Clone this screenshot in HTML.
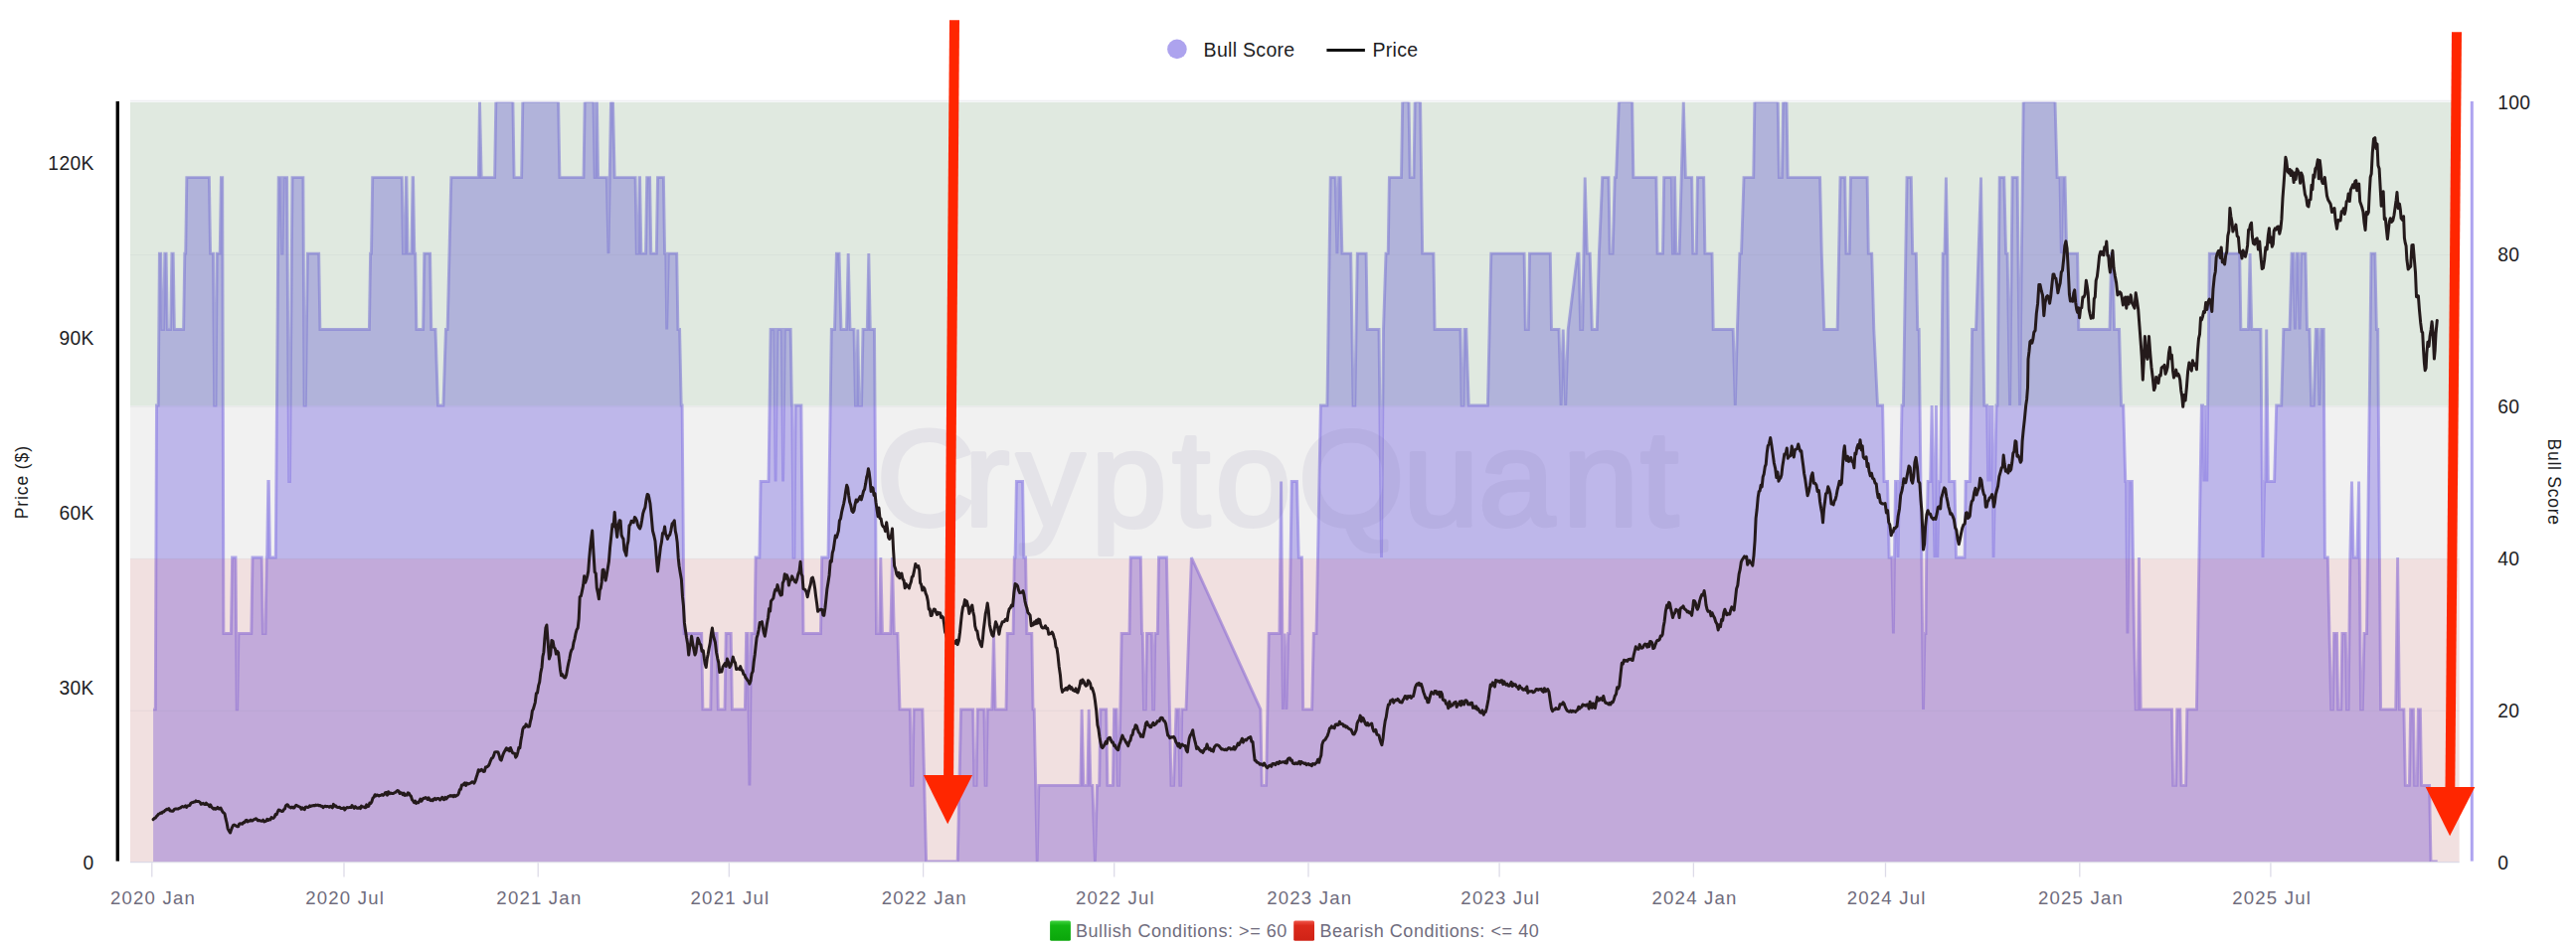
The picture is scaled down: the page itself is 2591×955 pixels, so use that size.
<!DOCTYPE html>
<html lang="en"><head><meta charset="utf-8"><title>Bull Score vs Price</title>
<style>
html,body{margin:0;padding:0;background:#fff;}
body{width:2591px;height:955px;overflow:hidden;}
svg{display:block;}
text{font-family:"Liberation Sans", Arial, Helvetica, sans-serif;}
.ax{font-size:19.3px;fill:#1d1d1f;letter-spacing:0.3px;}
.tk{font-size:18.6px;fill:#6f6c7d;letter-spacing:1.2px;}
.lg{font-size:19.5px;fill:#1d1d1f;letter-spacing:0.3px;}
.bl{font-size:18px;fill:#6f6c7d;letter-spacing:0.55px;}
.ti{font-size:17.5px;fill:#1d1d1f;letter-spacing:0.6px;}
</style></head><body>
<svg width="2591" height="955" viewBox="0 0 2591 955">
<defs>
<linearGradient id="gg" x1="0" y1="0" x2="0" y2="1"><stop offset="0" stop-color="#3fd23f"/><stop offset="0.25" stop-color="#12b512"/><stop offset="1" stop-color="#0aa60a"/></linearGradient>
<linearGradient id="rg" x1="0" y1="0" x2="0" y2="1"><stop offset="0" stop-color="#f0564a"/><stop offset="0.25" stop-color="#dc2a1c"/><stop offset="1" stop-color="#cf2216"/></linearGradient>
<clipPath id="pc"><rect x="131.0" y="102.8" width="2342.7" height="764.2"/></clipPath>
</defs>
<rect width="2591" height="955" fill="#ffffff"/>

<rect x="131.0" y="102.8" width="2342.7" height="764.2" fill="#f1f1f1"/>
<line x1="131.0" x2="2473.7" y1="101.5" y2="101.5" stroke="#eeeef2" stroke-width="1.3"/>
<g clip-path="url(#pc)"><path d="M154.1,867.0 L154.1,713.9 L156.3,713.9 L157.5,408.0 L159.2,408.0 L160.4,255.1 L161.7,255.1 L162.9,331.5 L164.6,331.5 L165.8,255.1 L167.1,255.1 L168.3,331.5 L171.7,331.5 L172.9,255.1 L174.2,255.1 L175.4,331.5 L184.6,331.5 L185.8,255.1 L186.7,255.1 L187.8,178.6 L210.4,178.6 L211.6,255.1 L214.5,255.1 L215.7,408.0 L217.0,408.0 L218.2,255.1 L221.2,255.1 L222.4,178.6 L223.7,178.6 L224.9,637.5 L232.4,637.5 L233.6,561.0 L237.0,561.0 L238.2,713.9 L238.7,713.9 L239.9,637.5 L252.8,637.5 L254.0,561.0 L263.2,561.0 L264.4,637.5 L267.0,637.5 L268.2,561.0 L268.6,561.0 L269.8,484.5 L270.3,484.5 L271.5,561.0 L277.3,561.0 L280.2,178.6 L282.4,178.6 L283.6,255.1 L284.0,255.1 L285.2,178.6 L288.6,178.6 L290.7,484.5 L291.5,484.5 L294.0,178.6 L304.9,178.6 L306.1,408.0 L307.3,408.0 L309.4,255.1 L320.7,255.1 L321.9,331.5 L371.4,331.5 L372.6,255.1 L373.5,255.1 L374.7,178.6 L404.3,178.6 L405.5,255.1 L407.2,255.1 L408.4,178.6 L408.9,178.6 L410.1,255.1 L413.9,255.1 L415.1,178.6 L415.6,178.6 L416.8,255.1 L417.7,255.1 L418.9,331.5 L425.6,331.5 L426.8,255.1 L432.6,255.1 L433.8,331.5 L438.0,331.5 L440.5,408.0 L445.9,408.0 L448.4,331.5 L450.1,331.5 L453.8,178.6 L481.3,178.6 L482.5,102.1 L484.2,178.6 L497.6,178.6 L498.8,102.1 L515.9,102.1 L517.1,178.6 L524.6,178.6 L525.8,102.1 L561.6,102.1 L562.9,178.6 L587.0,178.6 L588.2,102.1 L597.0,102.1 L598.2,178.6 L598.7,178.6 L599.9,102.1 L600.4,102.1 L601.6,178.6 L610.3,178.6 L612.0,255.1 L614.5,102.1 L616.5,102.1 L618.2,178.6 L639.1,178.6 L640.3,255.1 L642.0,255.1 L643.2,178.6 L643.6,178.6 L644.9,255.1 L649.5,255.1 L650.7,178.6 L653.6,178.6 L654.8,255.1 L660.3,255.1 L661.5,178.6 L667.4,178.6 L668.6,255.1 L669.8,255.1 L670.7,331.5 L672.3,255.1 L680.7,255.1 L681.9,331.5 L683.6,331.5 L685.2,408.0 L686.1,408.0 L688.1,637.5 L705.7,637.5 L706.9,713.9 L714.8,713.9 L716.0,637.5 L721.1,637.5 L722.3,713.9 L729.0,713.9 L730.2,637.5 L735.2,637.5 L736.4,713.9 L749.4,713.9 L750.6,637.5 L752.2,637.5 L753.9,790.4 L755.6,637.5 L759.0,637.5 L760.1,561.0 L763.9,561.0 L765.1,484.5 L773.0,484.5 L775.1,331.5 L778.9,331.5 L780.1,484.5 L781.8,331.5 L786.4,331.5 L787.6,484.5 L789.3,331.5 L795.2,331.5 L796.4,408.0 L796.8,408.0 L798.0,561.0 L798.9,561.0 L800.1,408.0 L805.9,408.0 L808.0,637.5 L825.5,637.5 L826.7,561.0 L833.0,561.0 L836.3,331.5 L839.5,331.5 L841.4,255.1 L844.0,255.1 L846.0,331.5 L851.5,331.5 L853.2,255.1 L855.0,331.5 L859.0,331.5 L860.5,408.0 L861.5,408.0 L862.8,331.5 L864.0,408.0 L866.5,408.0 L868.0,331.5 L872.3,331.5 L873.8,255.1 L875.3,331.5 L879.5,331.5 L881.5,637.5 L884.6,637.5 L885.8,561.0 L887.5,637.5 L895.8,637.5 L897.5,561.0 L899.3,637.5 L902.9,637.5 L905.0,713.9 L915.4,713.9 L916.6,790.4 L917.9,790.4 L919.1,713.9 L927.9,713.9 L931.6,866.9 L963.2,866.9 L966.6,713.9 L978.7,713.9 L979.9,790.4 L982.0,790.4 L983.2,713.9 L989.9,713.9 L991.1,790.4 L992.0,790.4 L993.2,713.9 L997.8,713.9 L999.5,637.5 L1001.1,713.9 L1012.0,713.9 L1013.2,637.5 L1019.1,637.5 L1020.3,561.0 L1021.1,561.0 L1022.4,484.5 L1028.6,484.5 L1029.8,561.0 L1031.6,561.0 L1032.8,637.5 L1037.8,637.5 L1039.0,713.9 L1040.2,713.9 L1043.2,866.9 L1044.8,790.4 L1086.9,790.4 L1088.1,713.9 L1089.8,790.4 L1093.9,790.4 L1095.2,713.9 L1096.9,790.4 L1098.9,790.4 L1101.4,866.9 L1103.5,790.4 L1105.7,790.4 L1106.8,713.9 L1112.7,713.9 L1113.9,790.4 L1119.4,790.4 L1120.6,713.9 L1123.1,713.9 L1124.3,790.4 L1125.6,790.4 L1128.1,637.5 L1136.0,637.5 L1137.2,561.0 L1147.3,561.0 L1148.5,637.5 L1149.3,637.5 L1150.5,713.9 L1152.3,713.9 L1153.5,637.5 L1158.5,637.5 L1159.7,713.9 L1160.6,713.9 L1161.8,637.5 L1164.3,637.5 L1165.5,561.0 L1173.4,561.0 L1176.4,713.9 L1178.0,790.4 L1180.5,790.4 L1183.0,713.9 L1185.6,713.9 L1186.8,790.4 L1187.6,790.4 L1188.8,713.9 L1193.0,713.9 L1198.4,561.0 L1267.9,713.9 L1269.2,790.4 L1273.6,790.4 L1276.2,637.5 L1286.9,637.5 L1288.6,484.5 L1290.4,713.9 L1292.2,637.5 L1293.9,713.9 L1295.7,637.5 L1297.0,637.5 L1299.2,484.5 L1304.5,484.5 L1306.3,561.0 L1309.4,561.0 L1310.7,713.9 L1319.6,713.9 L1321.3,637.5 L1324.0,637.5 L1328.4,408.0 L1334.9,408.0 L1338.2,178.6 L1343.2,178.6 L1344.9,255.1 L1346.6,178.6 L1348.2,178.6 L1349.9,255.1 L1358.7,255.1 L1361.1,408.0 L1362.8,408.0 L1365.3,255.1 L1374.1,255.1 L1375.3,331.5 L1387.0,331.5 L1389.5,561.0 L1391.5,331.5 L1394.0,255.1 L1396.2,255.1 L1397.4,178.6 L1409.5,178.6 L1410.7,102.1 L1417.0,102.1 L1418.2,178.6 L1422.0,178.6 L1423.2,102.1 L1428.6,102.1 L1430.7,255.1 L1441.9,255.1 L1443.1,331.5 L1469.0,331.5 L1470.2,408.0 L1471.9,408.0 L1473.1,331.5 L1474.8,331.5 L1477.3,408.0 L1496.4,408.0 L1499.8,255.1 L1533.1,255.1 L1534.3,331.5 L1537.3,331.5 L1538.5,255.1 L1559.3,255.1 L1560.5,331.5 L1568.0,331.5 L1570.1,408.0 L1572.2,331.5 L1574.7,408.0 L1577.2,331.5 L1586.7,255.1 L1588.0,255.1 L1589.7,331.5 L1591.7,331.5 L1594.2,178.6 L1596.3,255.1 L1599.2,255.1 L1601.3,331.5 L1606.3,331.5 L1608.4,255.1 L1611.7,178.6 L1618.0,178.6 L1619.2,255.1 L1622.1,255.1 L1624.2,178.6 L1625.5,178.6 L1628.4,102.1 L1641.7,102.1 L1642.9,178.6 L1665.9,178.6 L1667.1,255.1 L1672.5,255.1 L1673.7,178.6 L1681.3,178.6 L1682.5,255.1 L1682.9,255.1 L1684.1,178.6 L1684.6,178.6 L1685.8,255.1 L1689.1,255.1 L1693.3,102.1 L1695.4,178.6 L1701.7,178.6 L1702.8,255.1 L1706.2,255.1 L1707.4,178.6 L1713.7,178.6 L1714.9,255.1 L1722.0,255.1 L1723.2,331.5 L1743.2,331.5 L1745.3,408.0 L1747.4,331.5 L1749.9,255.1 L1751.5,255.1 L1754.0,178.6 L1763.7,178.6 L1764.9,102.1 L1788.2,102.1 L1789.4,178.6 L1792.4,178.6 L1793.6,102.1 L1797.0,102.1 L1798.2,178.6 L1830.6,178.6 L1832.3,255.1 L1834.8,331.5 L1848.1,331.5 L1851.0,178.6 L1855.7,178.6 L1856.9,255.1 L1860.2,255.1 L1861.4,178.6 L1878.1,178.6 L1879.3,255.1 L1882.7,255.1 L1884.8,331.5 L1888.5,408.0 L1893.6,408.0 L1895.0,484.5 L1898.6,484.5 L1900.1,561.0 L1902.9,561.0 L1904.4,637.5 L1905.5,561.0 L1906.5,484.5 L1908.0,484.5 L1909.0,561.0 L1910.5,484.5 L1911.5,484.5 L1913.0,408.0 L1914.4,408.0 L1918.0,178.6 L1922.3,178.6 L1923.7,255.1 L1927.3,255.1 L1928.8,331.5 L1930.2,331.5 L1934.5,713.9 L1935.9,637.5 L1937.0,637.5 L1937.7,561.0 L1939.1,484.5 L1941.7,484.5 L1943.1,408.0 L1944.5,484.5 L1946.0,561.0 L1947.4,408.0 L1948.8,561.0 L1950.2,484.5 L1951.7,484.5 L1954.2,255.1 L1956.0,255.1 L1957.4,178.6 L1958.8,255.1 L1960.7,484.5 L1966.0,484.5 L1967.5,561.0 L1976.1,561.0 L1977.1,484.5 L1981.4,484.5 L1983.6,331.5 L1987.5,331.5 L1992.5,178.6 L1995.8,408.0 L1998.6,408.0 L1999.7,484.5 L2001.2,408.0 L2002.6,484.5 L2004.0,408.0 L2005.1,561.0 L2006.5,484.5 L2008.0,408.0 L2009.0,408.0 L2011.2,178.6 L2015.8,178.6 L2017.6,255.1 L2019.1,255.1 L2021.6,408.0 L2024.1,178.6 L2029.1,178.6 L2031.6,408.0 L2035.2,102.1 L2067.0,102.1 L2069.1,178.6 L2072.0,178.6 L2073.3,255.1 L2074.9,178.6 L2077.0,178.6 L2078.7,255.1 L2089.6,255.1 L2090.8,331.5 L2122.0,331.5 L2123.6,255.1 L2124.9,255.1 L2126.6,331.5 L2131.6,331.5 L2133.6,408.0 L2135.7,408.0 L2137.8,484.5 L2138.6,484.5 L2139.9,637.5 L2141.5,484.5 L2144.4,484.5 L2146.5,637.5 L2148.2,713.9 L2150.3,713.9 L2151.5,561.0 L2153.2,713.9 L2184.5,713.9 L2185.7,790.4 L2188.6,790.4 L2189.8,713.9 L2192.8,713.9 L2194.0,790.4 L2198.6,790.4 L2199.8,713.9 L2209.4,713.9 L2214.4,408.0 L2215.6,408.0 L2216.9,484.5 L2218.5,408.0 L2219.8,484.5 L2222.3,255.1 L2252.7,255.1 L2253.9,331.5 L2261.4,331.5 L2263.1,255.1 L2264.8,331.5 L2273.9,331.5 L2276.0,561.0 L2277.7,484.5 L2278.5,484.5 L2279.7,331.5 L2281.4,484.5 L2287.6,484.5 L2289.7,408.0 L2294.7,408.0 L2296.8,331.5 L2303.0,331.5 L2305.1,255.1 L2306.8,255.1 L2308.4,331.5 L2310.1,255.1 L2311.4,255.1 L2313.0,331.5 L2314.7,255.1 L2318.9,255.1 L2320.5,331.5 L2323.0,331.5 L2324.7,408.0 L2327.2,408.0 L2329.3,331.5 L2331.3,331.5 L2333.0,408.0 L2334.7,331.5 L2337.2,331.5 L2338.4,561.0 L2341.3,561.0 L2344.7,713.9 L2346.4,713.9 L2347.6,637.5 L2350.5,637.5 L2351.7,713.9 L2354.7,713.9 L2355.9,637.5 L2359.3,637.5 L2360.5,713.9 L2362.1,713.9 L2363.8,561.0 L2365.5,484.5 L2367.1,561.0 L2370.9,561.0 L2372.6,484.5 L2374.6,713.9 L2376.3,713.9 L2378.0,637.5 L2380.5,637.5 L2385.0,255.1 L2388.8,255.1 L2390.4,331.5 L2391.7,331.5 L2394.6,713.9 L2409.7,713.9 L2411.6,561.0 L2413.4,713.9 L2417.9,713.9 L2419.3,790.4 L2423.4,790.4 L2424.6,713.9 L2427.4,713.9 L2428.6,790.4 L2431.2,790.4 L2432.4,713.9 L2434.4,713.9 L2435.6,790.4 L2443.6,790.4 L2445.0,866.9 L2451.7,866.9 L2451.7,867.0 Z" fill="rgb(139,125,227)" fill-opacity="0.5"/>
<path d="M154.1,713.9 L156.3,713.9 L157.5,408.0 L159.2,408.0 L160.4,255.1 L161.7,255.1 L162.9,331.5 L164.6,331.5 L165.8,255.1 L167.1,255.1 L168.3,331.5 L171.7,331.5 L172.9,255.1 L174.2,255.1 L175.4,331.5 L184.6,331.5 L185.8,255.1 L186.7,255.1 L187.8,178.6 L210.4,178.6 L211.6,255.1 L214.5,255.1 L215.7,408.0 L217.0,408.0 L218.2,255.1 L221.2,255.1 L222.4,178.6 L223.7,178.6 L224.9,637.5 L232.4,637.5 L233.6,561.0 L237.0,561.0 L238.2,713.9 L238.7,713.9 L239.9,637.5 L252.8,637.5 L254.0,561.0 L263.2,561.0 L264.4,637.5 L267.0,637.5 L268.2,561.0 L268.6,561.0 L269.8,484.5 L270.3,484.5 L271.5,561.0 L277.3,561.0 L280.2,178.6 L282.4,178.6 L283.6,255.1 L284.0,255.1 L285.2,178.6 L288.6,178.6 L290.7,484.5 L291.5,484.5 L294.0,178.6 L304.9,178.6 L306.1,408.0 L307.3,408.0 L309.4,255.1 L320.7,255.1 L321.9,331.5 L371.4,331.5 L372.6,255.1 L373.5,255.1 L374.7,178.6 L404.3,178.6 L405.5,255.1 L407.2,255.1 L408.4,178.6 L408.9,178.6 L410.1,255.1 L413.9,255.1 L415.1,178.6 L415.6,178.6 L416.8,255.1 L417.7,255.1 L418.9,331.5 L425.6,331.5 L426.8,255.1 L432.6,255.1 L433.8,331.5 L438.0,331.5 L440.5,408.0 L445.9,408.0 L448.4,331.5 L450.1,331.5 L453.8,178.6 L481.3,178.6 L482.5,102.1 L484.2,178.6 L497.6,178.6 L498.8,102.1 L515.9,102.1 L517.1,178.6 L524.6,178.6 L525.8,102.1 L561.6,102.1 L562.9,178.6 L587.0,178.6 L588.2,102.1 L597.0,102.1 L598.2,178.6 L598.7,178.6 L599.9,102.1 L600.4,102.1 L601.6,178.6 L610.3,178.6 L612.0,255.1 L614.5,102.1 L616.5,102.1 L618.2,178.6 L639.1,178.6 L640.3,255.1 L642.0,255.1 L643.2,178.6 L643.6,178.6 L644.9,255.1 L649.5,255.1 L650.7,178.6 L653.6,178.6 L654.8,255.1 L660.3,255.1 L661.5,178.6 L667.4,178.6 L668.6,255.1 L669.8,255.1 L670.7,331.5 L672.3,255.1 L680.7,255.1 L681.9,331.5 L683.6,331.5 L685.2,408.0 L686.1,408.0 L688.1,637.5 L705.7,637.5 L706.9,713.9 L714.8,713.9 L716.0,637.5 L721.1,637.5 L722.3,713.9 L729.0,713.9 L730.2,637.5 L735.2,637.5 L736.4,713.9 L749.4,713.9 L750.6,637.5 L752.2,637.5 L753.9,790.4 L755.6,637.5 L759.0,637.5 L760.1,561.0 L763.9,561.0 L765.1,484.5 L773.0,484.5 L775.1,331.5 L778.9,331.5 L780.1,484.5 L781.8,331.5 L786.4,331.5 L787.6,484.5 L789.3,331.5 L795.2,331.5 L796.4,408.0 L796.8,408.0 L798.0,561.0 L798.9,561.0 L800.1,408.0 L805.9,408.0 L808.0,637.5 L825.5,637.5 L826.7,561.0 L833.0,561.0 L836.3,331.5 L839.5,331.5 L841.4,255.1 L844.0,255.1 L846.0,331.5 L851.5,331.5 L853.2,255.1 L855.0,331.5 L859.0,331.5 L860.5,408.0 L861.5,408.0 L862.8,331.5 L864.0,408.0 L866.5,408.0 L868.0,331.5 L872.3,331.5 L873.8,255.1 L875.3,331.5 L879.5,331.5 L881.5,637.5 L884.6,637.5 L885.8,561.0 L887.5,637.5 L895.8,637.5 L897.5,561.0 L899.3,637.5 L902.9,637.5 L905.0,713.9 L915.4,713.9 L916.6,790.4 L917.9,790.4 L919.1,713.9 L927.9,713.9 L931.6,866.9 L963.2,866.9 L966.6,713.9 L978.7,713.9 L979.9,790.4 L982.0,790.4 L983.2,713.9 L989.9,713.9 L991.1,790.4 L992.0,790.4 L993.2,713.9 L997.8,713.9 L999.5,637.5 L1001.1,713.9 L1012.0,713.9 L1013.2,637.5 L1019.1,637.5 L1020.3,561.0 L1021.1,561.0 L1022.4,484.5 L1028.6,484.5 L1029.8,561.0 L1031.6,561.0 L1032.8,637.5 L1037.8,637.5 L1039.0,713.9 L1040.2,713.9 L1043.2,866.9 L1044.8,790.4 L1086.9,790.4 L1088.1,713.9 L1089.8,790.4 L1093.9,790.4 L1095.2,713.9 L1096.9,790.4 L1098.9,790.4 L1101.4,866.9 L1103.5,790.4 L1105.7,790.4 L1106.8,713.9 L1112.7,713.9 L1113.9,790.4 L1119.4,790.4 L1120.6,713.9 L1123.1,713.9 L1124.3,790.4 L1125.6,790.4 L1128.1,637.5 L1136.0,637.5 L1137.2,561.0 L1147.3,561.0 L1148.5,637.5 L1149.3,637.5 L1150.5,713.9 L1152.3,713.9 L1153.5,637.5 L1158.5,637.5 L1159.7,713.9 L1160.6,713.9 L1161.8,637.5 L1164.3,637.5 L1165.5,561.0 L1173.4,561.0 L1176.4,713.9 L1178.0,790.4 L1180.5,790.4 L1183.0,713.9 L1185.6,713.9 L1186.8,790.4 L1187.6,790.4 L1188.8,713.9 L1193.0,713.9 L1198.4,561.0 L1267.9,713.9 L1269.2,790.4 L1273.6,790.4 L1276.2,637.5 L1286.9,637.5 L1288.6,484.5 L1290.4,713.9 L1292.2,637.5 L1293.9,713.9 L1295.7,637.5 L1297.0,637.5 L1299.2,484.5 L1304.5,484.5 L1306.3,561.0 L1309.4,561.0 L1310.7,713.9 L1319.6,713.9 L1321.3,637.5 L1324.0,637.5 L1328.4,408.0 L1334.9,408.0 L1338.2,178.6 L1343.2,178.6 L1344.9,255.1 L1346.6,178.6 L1348.2,178.6 L1349.9,255.1 L1358.7,255.1 L1361.1,408.0 L1362.8,408.0 L1365.3,255.1 L1374.1,255.1 L1375.3,331.5 L1387.0,331.5 L1389.5,561.0 L1391.5,331.5 L1394.0,255.1 L1396.2,255.1 L1397.4,178.6 L1409.5,178.6 L1410.7,102.1 L1417.0,102.1 L1418.2,178.6 L1422.0,178.6 L1423.2,102.1 L1428.6,102.1 L1430.7,255.1 L1441.9,255.1 L1443.1,331.5 L1469.0,331.5 L1470.2,408.0 L1471.9,408.0 L1473.1,331.5 L1474.8,331.5 L1477.3,408.0 L1496.4,408.0 L1499.8,255.1 L1533.1,255.1 L1534.3,331.5 L1537.3,331.5 L1538.5,255.1 L1559.3,255.1 L1560.5,331.5 L1568.0,331.5 L1570.1,408.0 L1572.2,331.5 L1574.7,408.0 L1577.2,331.5 L1586.7,255.1 L1588.0,255.1 L1589.7,331.5 L1591.7,331.5 L1594.2,178.6 L1596.3,255.1 L1599.2,255.1 L1601.3,331.5 L1606.3,331.5 L1608.4,255.1 L1611.7,178.6 L1618.0,178.6 L1619.2,255.1 L1622.1,255.1 L1624.2,178.6 L1625.5,178.6 L1628.4,102.1 L1641.7,102.1 L1642.9,178.6 L1665.9,178.6 L1667.1,255.1 L1672.5,255.1 L1673.7,178.6 L1681.3,178.6 L1682.5,255.1 L1682.9,255.1 L1684.1,178.6 L1684.6,178.6 L1685.8,255.1 L1689.1,255.1 L1693.3,102.1 L1695.4,178.6 L1701.7,178.6 L1702.8,255.1 L1706.2,255.1 L1707.4,178.6 L1713.7,178.6 L1714.9,255.1 L1722.0,255.1 L1723.2,331.5 L1743.2,331.5 L1745.3,408.0 L1747.4,331.5 L1749.9,255.1 L1751.5,255.1 L1754.0,178.6 L1763.7,178.6 L1764.9,102.1 L1788.2,102.1 L1789.4,178.6 L1792.4,178.6 L1793.6,102.1 L1797.0,102.1 L1798.2,178.6 L1830.6,178.6 L1832.3,255.1 L1834.8,331.5 L1848.1,331.5 L1851.0,178.6 L1855.7,178.6 L1856.9,255.1 L1860.2,255.1 L1861.4,178.6 L1878.1,178.6 L1879.3,255.1 L1882.7,255.1 L1884.8,331.5 L1888.5,408.0 L1893.6,408.0 L1895.0,484.5 L1898.6,484.5 L1900.1,561.0 L1902.9,561.0 L1904.4,637.5 L1905.5,561.0 L1906.5,484.5 L1908.0,484.5 L1909.0,561.0 L1910.5,484.5 L1911.5,484.5 L1913.0,408.0 L1914.4,408.0 L1918.0,178.6 L1922.3,178.6 L1923.7,255.1 L1927.3,255.1 L1928.8,331.5 L1930.2,331.5 L1934.5,713.9 L1935.9,637.5 L1937.0,637.5 L1937.7,561.0 L1939.1,484.5 L1941.7,484.5 L1943.1,408.0 L1944.5,484.5 L1946.0,561.0 L1947.4,408.0 L1948.8,561.0 L1950.2,484.5 L1951.7,484.5 L1954.2,255.1 L1956.0,255.1 L1957.4,178.6 L1958.8,255.1 L1960.7,484.5 L1966.0,484.5 L1967.5,561.0 L1976.1,561.0 L1977.1,484.5 L1981.4,484.5 L1983.6,331.5 L1987.5,331.5 L1992.5,178.6 L1995.8,408.0 L1998.6,408.0 L1999.7,484.5 L2001.2,408.0 L2002.6,484.5 L2004.0,408.0 L2005.1,561.0 L2006.5,484.5 L2008.0,408.0 L2009.0,408.0 L2011.2,178.6 L2015.8,178.6 L2017.6,255.1 L2019.1,255.1 L2021.6,408.0 L2024.1,178.6 L2029.1,178.6 L2031.6,408.0 L2035.2,102.1 L2067.0,102.1 L2069.1,178.6 L2072.0,178.6 L2073.3,255.1 L2074.9,178.6 L2077.0,178.6 L2078.7,255.1 L2089.6,255.1 L2090.8,331.5 L2122.0,331.5 L2123.6,255.1 L2124.9,255.1 L2126.6,331.5 L2131.6,331.5 L2133.6,408.0 L2135.7,408.0 L2137.8,484.5 L2138.6,484.5 L2139.9,637.5 L2141.5,484.5 L2144.4,484.5 L2146.5,637.5 L2148.2,713.9 L2150.3,713.9 L2151.5,561.0 L2153.2,713.9 L2184.5,713.9 L2185.7,790.4 L2188.6,790.4 L2189.8,713.9 L2192.8,713.9 L2194.0,790.4 L2198.6,790.4 L2199.8,713.9 L2209.4,713.9 L2214.4,408.0 L2215.6,408.0 L2216.9,484.5 L2218.5,408.0 L2219.8,484.5 L2222.3,255.1 L2252.7,255.1 L2253.9,331.5 L2261.4,331.5 L2263.1,255.1 L2264.8,331.5 L2273.9,331.5 L2276.0,561.0 L2277.7,484.5 L2278.5,484.5 L2279.7,331.5 L2281.4,484.5 L2287.6,484.5 L2289.7,408.0 L2294.7,408.0 L2296.8,331.5 L2303.0,331.5 L2305.1,255.1 L2306.8,255.1 L2308.4,331.5 L2310.1,255.1 L2311.4,255.1 L2313.0,331.5 L2314.7,255.1 L2318.9,255.1 L2320.5,331.5 L2323.0,331.5 L2324.7,408.0 L2327.2,408.0 L2329.3,331.5 L2331.3,331.5 L2333.0,408.0 L2334.7,331.5 L2337.2,331.5 L2338.4,561.0 L2341.3,561.0 L2344.7,713.9 L2346.4,713.9 L2347.6,637.5 L2350.5,637.5 L2351.7,713.9 L2354.7,713.9 L2355.9,637.5 L2359.3,637.5 L2360.5,713.9 L2362.1,713.9 L2363.8,561.0 L2365.5,484.5 L2367.1,561.0 L2370.9,561.0 L2372.6,484.5 L2374.6,713.9 L2376.3,713.9 L2378.0,637.5 L2380.5,637.5 L2385.0,255.1 L2388.8,255.1 L2390.4,331.5 L2391.7,331.5 L2394.6,713.9 L2409.7,713.9 L2411.6,561.0 L2413.4,713.9 L2417.9,713.9 L2419.3,790.4 L2423.4,790.4 L2424.6,713.9 L2427.4,713.9 L2428.6,790.4 L2431.2,790.4 L2432.4,713.9 L2434.4,713.9 L2435.6,790.4 L2443.6,790.4 L2445.0,866.9 L2451.7,866.9" fill="none" stroke="rgb(139,125,227)" stroke-opacity="0.64" stroke-width="2.9" stroke-linejoin="miter"/></g>
<rect x="131.0" y="102.8" width="2342.7" height="305.6" fill="rgb(0,128,0)" fill-opacity="0.067"/>
<rect x="131.0" y="562.3" width="2342.7" height="304.7" fill="rgb(255,0,0)" fill-opacity="0.068"/>
<line x1="131.0" x2="2473.7" y1="256.5" y2="256.5" stroke="#7a7a90" stroke-opacity="0.06" stroke-width="1.2"/>
<line x1="131.0" x2="2473.7" y1="409.4" y2="409.4" stroke="#7a7a90" stroke-opacity="0.06" stroke-width="1.2"/>
<line x1="131.0" x2="2473.7" y1="562.4" y2="562.4" stroke="#7a7a90" stroke-opacity="0.06" stroke-width="1.2"/>
<line x1="131.0" x2="2473.7" y1="715.3" y2="715.3" stroke="#7a7a90" stroke-opacity="0.06" stroke-width="1.2"/>
<text x="881.3 969.4 1022.2 1097.1 1179.1 1222.2 1305.6 1411.0 1486.9 1571.4 1650.0" y="528.6" font-size="138" fill="rgb(110,100,150)" stroke="rgb(110,100,150)" stroke-width="4" stroke-linejoin="round" opacity="0.09">CryptoQuant</text>
<path d="M154.1,824.6 L155.2,823.5 L156.3,823.1 L157.3,821.6 L158.4,820.6 L159.5,819.2 L160.6,818.8 L161.6,818.0 L162.7,818.2 L163.7,817.0 L164.7,816.9 L165.8,815.7 L166.8,815.2 L167.9,814.2 L168.9,814.7 L169.9,813.7 L171.0,815.9 L172.0,816.0 L173.1,816.3 L174.1,816.3 L175.2,814.6 L176.2,814.0 L177.2,814.1 L178.3,813.9 L179.3,813.9 L180.4,813.2 L181.4,813.1 L182.4,812.2 L183.5,811.5 L184.5,812.0 L185.6,811.8 L186.6,810.8 L187.6,812.4 L188.7,810.9 L189.7,810.7 L190.8,810.6 L191.8,808.5 L192.8,807.8 L193.9,807.5 L194.9,807.1 L196.0,807.0 L197.0,805.9 L198.0,806.6 L199.1,806.5 L200.1,806.6 L201.2,807.4 L202.2,809.3 L203.2,808.8 L204.3,808.3 L205.3,809.3 L206.4,809.6 L207.4,808.2 L208.4,809.6 L209.5,809.7 L210.6,811.6 L211.7,809.9 L212.7,812.2 L213.8,813.2 L214.9,814.2 L215.9,813.4 L216.9,814.3 L217.9,813.7 L218.9,812.4 L220.0,814.0 L221.0,813.7 L222.0,813.0 L223.0,815.3 L224.1,817.2 L225.1,817.9 L226.1,819.2 L227.1,824.2 L228.1,828.1 L229.1,833.8 L230.3,836.2 L231.6,838.0 L232.5,835.1 L233.5,832.7 L234.5,830.5 L235.5,830.0 L236.5,830.5 L237.6,831.1 L238.6,831.7 L239.7,831.8 L240.7,829.1 L241.7,828.7 L242.8,829.1 L243.8,829.2 L244.9,827.6 L245.9,827.7 L247.0,825.9 L248.0,825.3 L249.0,827.0 L250.1,826.0 L251.1,826.3 L252.2,825.2 L253.2,826.1 L254.2,825.8 L255.3,824.7 L256.3,824.4 L257.4,823.8 L258.4,824.5 L259.4,825.7 L260.5,825.5 L261.5,825.8 L262.6,826.2 L263.6,826.3 L264.6,825.2 L265.7,826.9 L266.7,826.5 L267.8,826.1 L268.8,824.3 L269.8,825.5 L270.9,824.5 L271.9,824.9 L273.0,822.6 L274.0,823.1 L275.0,823.4 L276.1,822.1 L277.1,819.5 L278.2,819.8 L279.2,817.2 L280.2,815.1 L281.3,815.3 L282.3,815.9 L283.4,816.5 L284.4,816.3 L285.5,814.7 L286.5,813.9 L287.5,810.8 L288.6,809.7 L289.6,810.2 L290.7,812.1 L291.7,812.2 L292.7,813.0 L293.8,812.0 L294.8,813.0 L295.9,813.1 L296.9,811.3 L297.9,810.2 L299.0,810.9 L300.0,811.4 L301.1,811.9 L302.1,812.3 L303.1,814.2 L304.2,812.9 L305.2,814.2 L306.3,814.6 L307.3,812.2 L308.3,812.0 L309.4,812.5 L310.4,812.3 L311.5,810.9 L312.5,811.5 L313.5,811.0 L314.6,810.7 L315.6,810.6 L316.7,810.8 L317.7,810.1 L318.8,810.4 L319.8,810.1 L320.8,810.7 L321.9,810.5 L322.9,811.3 L324.0,811.3 L325.0,812.7 L326.0,811.6 L327.1,811.2 L328.1,811.7 L329.2,811.4 L330.2,811.6 L331.2,812.3 L332.3,811.3 L333.3,811.8 L334.4,812.8 L335.4,809.4 L336.4,811.3 L337.5,810.7 L338.5,812.0 L339.6,812.4 L340.6,812.5 L341.6,812.3 L342.7,813.4 L343.7,813.4 L344.8,813.4 L345.8,812.9 L346.8,815.0 L347.9,813.4 L348.9,812.6 L350.0,812.8 L351.0,812.6 L352.0,812.6 L353.1,812.6 L354.1,810.5 L355.2,812.2 L356.2,813.3 L357.3,811.7 L358.3,812.5 L359.3,813.3 L360.4,813.2 L361.4,812.6 L362.5,813.6 L363.5,811.1 L364.5,812.0 L365.6,811.9 L366.6,812.5 L367.7,812.8 L368.7,809.8 L369.7,811.7 L370.8,811.3 L371.8,808.1 L372.9,808.5 L373.9,806.7 L375.0,803.1 L376.1,802.2 L377.2,799.7 L378.2,800.9 L379.2,799.9 L380.2,800.3 L381.2,801.0 L382.2,800.5 L383.3,800.1 L384.3,799.5 L385.3,800.4 L386.4,799.5 L387.4,797.8 L388.5,797.6 L389.5,800.2 L390.6,796.8 L391.6,798.8 L392.6,797.9 L393.7,798.4 L394.7,798.4 L395.8,798.5 L396.8,797.6 L397.8,797.4 L398.9,796.3 L399.9,795.5 L401.0,796.1 L402.0,798.5 L403.0,797.7 L404.1,798.2 L405.1,799.7 L406.2,798.2 L407.2,800.4 L408.2,799.7 L409.3,800.1 L410.3,797.8 L411.4,798.4 L412.4,800.3 L413.4,801.2 L414.5,804.7 L415.5,805.9 L416.6,807.6 L417.6,806.0 L418.6,808.4 L419.7,807.6 L420.7,807.8 L421.8,806.2 L422.8,804.1 L423.9,806.2 L424.9,804.4 L425.9,803.3 L427.0,803.5 L428.0,802.6 L429.1,803.3 L430.1,804.5 L431.1,802.8 L432.2,804.9 L433.2,805.6 L434.3,804.7 L435.3,805.7 L436.3,804.1 L437.4,803.4 L438.4,804.7 L439.5,803.7 L440.5,803.4 L441.5,803.7 L442.6,805.0 L443.6,803.8 L444.7,802.3 L445.7,804.1 L446.7,804.7 L447.8,802.4 L448.8,804.0 L449.9,802.8 L450.9,801.4 L451.9,801.2 L453.0,800.5 L454.0,801.2 L455.1,800.6 L456.1,801.6 L457.1,800.4 L458.2,801.4 L459.2,800.5 L460.3,800.1 L461.3,798.5 L462.4,794.7 L463.4,794.4 L464.4,790.1 L465.5,790.1 L466.5,788.9 L467.6,787.8 L468.6,790.5 L469.6,788.1 L470.7,789.0 L471.7,788.8 L472.8,788.2 L473.8,787.8 L474.8,786.8 L475.9,787.1 L476.9,788.2 L478.0,785.9 L479.1,782.2 L480.2,779.0 L481.3,774.7 L482.3,776.1 L483.3,775.1 L484.3,774.3 L485.3,775.4 L486.3,776.4 L487.3,776.3 L488.4,772.1 L489.4,772.0 L490.4,771.4 L491.5,770.4 L492.5,768.1 L493.6,765.1 L494.6,763.0 L495.7,762.4 L496.7,760.1 L497.7,756.9 L498.8,756.8 L500.0,756.8 L501.0,757.0 L502.1,760.2 L503.1,764.1 L504.2,765.1 L505.2,761.8 L506.2,758.8 L507.3,756.4 L508.3,754.7 L509.4,752.9 L510.4,754.8 L511.4,753.7 L512.5,755.7 L513.5,752.5 L514.6,755.5 L515.6,757.6 L516.6,758.1 L517.7,758.2 L518.7,762.2 L519.8,760.7 L520.8,757.1 L521.9,752.2 L522.9,752.6 L523.9,745.2 L524.8,740.5 L525.8,733.9 L526.9,731.6 L528.0,731.7 L529.1,728.9 L530.2,730.7 L531.4,731.3 L532.5,731.0 L533.4,726.2 L534.4,722.5 L535.4,715.2 L536.4,713.5 L537.3,710.4 L538.3,706.8 L539.4,697.7 L540.5,697.3 L541.6,690.2 L542.7,686.4 L543.8,677.1 L545.0,671.5 L545.9,660.8 L546.9,656.2 L547.9,642.3 L548.9,631.7 L549.9,629.0 L551.2,647.1 L552.4,663.1 L553.7,658.9 L554.9,644.4 L556.1,645.2 L557.2,651.4 L558.3,652.7 L559.4,658.1 L560.5,655.3 L561.6,656.9 L562.6,665.7 L563.5,673.9 L564.5,679.8 L565.6,678.6 L566.6,680.7 L567.6,681.9 L568.7,681.9 L569.7,678.8 L570.8,672.4 L571.8,667.4 L572.8,663.1 L573.9,656.9 L574.9,654.1 L576.0,652.6 L577.0,646.5 L578.0,643.1 L579.1,637.3 L580.1,633.7 L581.2,631.9 L582.2,622.8 L583.2,600.7 L584.4,599.8 L585.5,594.6 L586.6,589.1 L587.6,579.8 L588.7,586.2 L589.7,583.5 L590.7,579.9 L591.7,574.9 L592.7,561.7 L593.7,550.8 L594.7,542.2 L595.7,534.1 L597.0,556.5 L598.2,575.7 L599.3,577.2 L600.3,592.0 L601.4,596.9 L602.4,602.8 L603.3,593.7 L604.3,591.8 L605.2,585.9 L606.1,573.7 L607.1,573.2 L608.1,578.8 L609.1,584.1 L610.2,578.6 L611.3,572.1 L612.4,565.3 L613.6,550.6 L614.9,538.3 L616.0,527.6 L617.1,529.8 L618.2,515.4 L619.5,531.2 L620.7,540.4 L622.0,528.3 L623.2,523.7 L624.1,524.1 L625.1,538.4 L626.0,540.8 L627.0,542.4 L627.9,553.5 L628.9,555.9 L629.9,559.1 L630.9,548.7 L631.9,544.3 L633.0,528.9 L634.0,527.9 L635.1,524.2 L636.2,525.2 L637.3,525.8 L638.4,520.5 L639.4,521.6 L640.5,523.8 L641.5,528.3 L642.6,530.6 L643.6,532.0 L644.6,529.4 L645.7,523.3 L646.7,516.9 L647.8,513.3 L648.9,510.7 L650.0,502.9 L651.1,497.5 L652.1,497.9 L653.0,501.7 L654.0,507.1 L655.3,520.6 L656.5,534.1 L657.8,539.0 L659.0,544.5 L660.2,560.2 L661.5,574.9 L662.5,566.9 L663.4,559.3 L664.4,550.8 L665.5,545.1 L666.5,536.5 L667.5,536.5 L668.6,529.9 L669.5,537.4 L670.5,539.6 L671.5,542.4 L672.6,539.1 L673.7,538.3 L674.8,534.1 L676.1,526.9 L677.3,525.8 L678.3,523.9 L679.3,534.3 L680.2,538.3 L681.2,545.9 L682.2,561.2 L683.1,569.5 L684.3,576.9 L685.4,583.3 L686.5,600.7 L687.4,609.2 L688.4,626.7 L689.4,634.0 L690.5,641.5 L691.6,647.7 L692.7,659.0 L693.7,651.1 L694.7,647.6 L695.6,640.2 L696.7,647.6 L697.8,653.1 L699.0,659.0 L699.9,656.6 L700.9,649.4 L701.9,642.3 L702.8,644.4 L703.8,647.8 L704.8,648.6 L706.0,655.2 L707.3,654.8 L708.3,662.4 L709.2,668.0 L710.2,671.5 L711.2,663.0 L712.1,658.7 L713.1,652.7 L714.2,647.4 L715.3,638.2 L716.4,631.9 L717.4,639.2 L718.4,643.0 L719.4,646.5 L720.6,656.7 L721.9,663.1 L722.8,666.9 L723.8,676.5 L724.8,675.6 L725.9,676.0 L727.0,671.0 L728.1,669.4 L729.2,667.5 L730.3,670.5 L731.4,663.1 L732.7,666.6 L733.9,671.5 L735.0,669.7 L736.1,666.5 L737.3,661.1 L738.4,665.2 L739.5,667.1 L740.6,673.5 L741.6,673.2 L742.7,672.8 L743.7,673.6 L744.7,670.6 L745.8,674.2 L746.8,674.8 L747.9,678.5 L748.9,679.0 L749.9,681.8 L750.9,683.0 L751.9,684.6 L752.9,685.8 L753.9,688.1 L755.0,685.2 L756.1,677.8 L757.2,675.6 L758.2,666.0 L759.2,659.0 L760.1,650.7 L761.1,641.9 L762.1,638.6 L763.1,634.0 L764.2,626.6 L765.3,626.9 L766.4,625.7 L767.4,631.9 L768.3,636.7 L769.3,640.2 L770.4,633.9 L771.5,627.2 L772.6,621.5 L773.6,612.5 L774.6,615.0 L775.5,604.9 L776.7,603.4 L777.8,602.1 L778.9,596.5 L779.9,593.2 L781.0,594.0 L782.0,588.6 L783.0,592.4 L784.1,596.5 L785.3,599.0 L786.4,598.6 L787.3,586.7 L788.3,584.6 L789.3,577.8 L790.3,582.3 L791.4,578.7 L792.4,581.3 L793.4,589.1 L794.5,584.4 L795.5,583.8 L796.6,579.9 L797.6,582.0 L798.6,583.5 L799.5,585.4 L800.5,586.1 L801.7,582.7 L802.8,577.7 L804.0,574.8 L805.1,565.3 L806.1,577.6 L807.0,579.8 L808.0,592.4 L809.1,593.1 L810.1,593.8 L811.1,595.8 L812.2,600.7 L813.2,595.8 L814.3,591.4 L815.3,588.0 L816.3,582.0 L817.4,581.2 L818.6,585.6 L819.7,592.4 L820.6,600.0 L821.6,607.1 L822.6,615.3 L823.7,613.8 L824.8,613.7 L825.9,613.2 L826.9,613.4 L827.9,619.1 L828.8,619.4 L829.9,612.0 L830.9,602.6 L831.9,592.7 L833.0,586.1 L834.1,578.7 L835.2,564.6 L836.3,565.3 L837.3,556.2 L838.3,553.0 L839.2,546.6 L840.3,538.9 L841.3,541.0 L842.4,537.7 L843.4,534.1 L844.4,524.0 L845.5,521.9 L846.5,515.9 L847.6,511.2 L848.6,507.0 L849.6,501.9 L850.7,493.9 L851.7,488.3 L852.7,490.9 L853.7,498.9 L854.6,505.0 L855.7,508.2 L856.9,514.3 L858.0,515.4 L859.0,513.8 L860.0,507.8 L861.1,503.0 L862.1,505.0 L863.2,503.2 L864.2,501.4 L865.2,499.6 L866.3,502.9 L867.4,499.0 L868.5,494.3 L869.6,492.5 L870.7,486.6 L871.7,480.0 L872.5,477.7 L873.4,471.7 L874.2,475.4 L875.0,482.1 L876.1,494.5 L877.1,490.4 L878.1,491.4 L879.0,498.4 L880.0,496.6 L881.0,505.4 L882.1,513.3 L883.1,519.7 L884.0,511.1 L885.0,521.6 L886.1,522.0 L887.2,528.0 L888.3,529.9 L889.4,530.5 L890.5,534.6 L891.7,525.8 L892.6,532.4 L893.6,540.9 L894.6,542.4 L895.5,541.3 L896.5,538.5 L897.5,532.0 L898.5,552.3 L899.6,569.5 L900.7,572.5 L901.8,577.8 L902.9,579.9 L903.9,576.2 L904.8,581.8 L905.8,577.8 L906.9,577.1 L908.0,582.7 L909.1,584.1 L910.2,591.8 L911.4,587.6 L912.5,590.3 L913.4,589.7 L914.4,592.0 L915.4,588.2 L916.4,585.5 L917.3,580.5 L918.3,579.9 L919.5,574.4 L920.8,567.4 L921.8,569.8 L922.7,570.8 L923.7,569.5 L924.7,573.6 L925.6,586.7 L926.6,588.2 L927.7,594.0 L928.8,591.0 L929.9,592.4 L931.1,597.2 L932.2,599.6 L933.3,604.9 L934.2,613.2 L935.2,612.9 L936.2,619.4 L937.2,619.5 L938.3,615.2 L939.3,613.1 L940.4,613.2 L941.4,616.0 L942.4,618.5 L943.5,616.3 L944.5,617.4 L945.6,616.8 L946.6,621.4 L947.6,620.4 L948.7,621.5 L949.6,627.8 L950.6,636.1 L951.6,638.2 L952.7,642.8 L953.8,641.2 L954.9,644.4 L956.0,649.9 L957.0,645.5 L958.0,647.7 L959.1,646.5 L960.1,645.6 L961.2,647.4 L962.2,644.3 L963.2,648.6 L964.4,644.9 L965.5,636.4 L966.6,625.7 L967.5,617.2 L968.5,610.9 L969.5,609.0 L970.5,603.6 L971.4,609.2 L972.4,604.9 L973.7,610.0 L974.9,617.4 L975.9,614.4 L976.8,611.0 L977.8,609.0 L978.8,615.7 L979.8,620.3 L980.7,629.8 L981.8,634.1 L982.9,634.9 L984.1,642.3 L985.2,644.9 L986.3,648.5 L987.4,650.7 L988.4,643.4 L989.3,633.5 L990.3,625.7 L991.3,617.3 L992.2,613.6 L993.2,607.0 L994.3,614.8 L995.4,628.7 L996.5,634.0 L997.8,638.9 L999.0,640.2 L1000.3,632.7 L1001.5,625.7 L1002.7,628.8 L1003.8,632.4 L1004.9,638.2 L1006.0,631.9 L1007.1,629.0 L1008.2,625.7 L1009.2,625.7 L1010.1,625.5 L1011.1,623.6 L1012.1,622.9 L1013.1,624.5 L1014.0,617.4 L1015.1,612.9 L1016.2,611.8 L1017.4,609.0 L1018.6,609.9 L1019.9,596.5 L1021.1,587.5 L1022.4,588.2 L1023.5,589.6 L1024.6,594.2 L1025.7,596.5 L1026.8,596.3 L1027.9,596.2 L1029.0,594.5 L1030.0,598.7 L1031.0,605.1 L1031.9,609.0 L1032.9,611.9 L1033.9,616.5 L1034.8,617.4 L1036.1,619.1 L1037.3,629.8 L1038.4,627.3 L1039.4,628.8 L1040.5,625.9 L1041.5,627.8 L1042.5,624.3 L1043.6,627.2 L1044.6,623.1 L1045.7,623.6 L1046.6,627.9 L1047.6,630.9 L1048.6,631.9 L1049.5,631.9 L1050.5,631.7 L1051.5,629.8 L1052.6,632.4 L1053.7,632.2 L1054.8,638.2 L1055.9,637.4 L1057.0,637.8 L1058.1,636.1 L1059.1,637.7 L1060.1,641.4 L1061.1,644.4 L1062.0,650.9 L1063.0,652.3 L1064.0,659.0 L1065.2,670.7 L1066.5,679.8 L1067.5,691.5 L1068.6,696.4 L1069.5,694.4 L1070.4,694.6 L1071.4,693.1 L1072.3,692.3 L1073.4,694.3 L1074.5,691.5 L1075.6,690.2 L1076.7,693.2 L1077.8,691.7 L1079.0,694.4 L1080.0,694.9 L1081.0,695.4 L1082.1,692.8 L1083.1,696.4 L1084.1,696.9 L1085.1,693.9 L1086.0,690.2 L1087.0,684.9 L1088.0,687.4 L1088.9,684.0 L1090.1,685.8 L1091.2,688.9 L1092.3,690.2 L1093.4,689.5 L1094.5,684.7 L1095.6,686.0 L1096.6,687.7 L1097.6,692.9 L1098.5,692.3 L1099.5,695.4 L1100.5,698.9 L1101.4,704.8 L1102.7,715.1 L1103.9,729.7 L1104.9,733.6 L1105.9,741.3 L1106.8,746.4 L1107.9,751.7 L1108.9,752.6 L1110.0,751.1 L1111.1,748.8 L1112.3,746.4 L1113.3,748.3 L1114.3,743.6 L1115.4,742.4 L1116.4,742.2 L1117.5,745.0 L1118.5,747.1 L1119.5,747.1 L1120.6,750.6 L1121.6,750.1 L1122.7,753.0 L1123.7,754.0 L1124.7,754.7 L1125.8,749.4 L1126.8,747.2 L1127.9,743.1 L1128.9,740.1 L1130.0,742.9 L1131.1,744.2 L1132.2,746.4 L1133.5,748.4 L1134.7,750.6 L1135.8,746.6 L1137.0,745.0 L1138.1,740.1 L1139.1,739.5 L1140.1,734.4 L1141.2,733.6 L1142.2,729.7 L1143.3,730.7 L1144.3,734.0 L1145.3,737.0 L1146.4,738.1 L1147.5,741.3 L1148.6,739.8 L1149.7,741.4 L1150.7,736.7 L1151.7,732.5 L1152.6,727.7 L1153.7,726.5 L1154.7,729.8 L1155.8,729.8 L1156.8,731.8 L1157.8,731.8 L1158.9,729.1 L1159.9,727.4 L1161.0,729.7 L1162.0,728.8 L1163.0,728.0 L1164.1,725.8 L1165.1,725.6 L1166.1,725.8 L1167.1,722.9 L1168.0,722.2 L1169.1,722.4 L1170.3,725.2 L1171.4,725.6 L1172.5,728.1 L1173.6,734.3 L1174.7,740.1 L1175.7,740.8 L1176.6,742.7 L1177.6,742.2 L1178.6,741.7 L1179.5,742.1 L1180.5,741.4 L1181.6,742.9 L1182.7,746.5 L1183.9,748.5 L1184.9,751.0 L1185.9,748.2 L1187.0,752.5 L1188.0,749.7 L1189.1,749.1 L1190.1,750.2 L1191.1,750.6 L1192.2,750.6 L1193.2,755.0 L1194.3,756.8 L1195.2,749.7 L1196.2,742.9 L1197.2,740.1 L1198.4,738.3 L1199.7,734.7 L1200.6,740.4 L1201.6,744.7 L1202.6,748.5 L1203.6,753.4 L1204.7,751.9 L1205.7,753.5 L1206.7,754.7 L1207.8,756.1 L1208.8,755.6 L1209.9,757.4 L1210.9,755.5 L1211.9,753.3 L1213.0,753.6 L1214.0,749.0 L1215.1,752.6 L1216.1,754.2 L1217.1,753.2 L1218.2,755.4 L1219.2,754.7 L1220.3,756.2 L1221.3,752.2 L1222.4,750.6 L1223.4,749.7 L1224.4,749.8 L1225.5,750.1 L1226.5,751.1 L1227.6,752.6 L1228.6,754.0 L1229.6,753.7 L1230.7,754.3 L1231.7,754.7 L1232.8,754.0 L1233.8,754.8 L1234.8,753.8 L1235.9,752.6 L1236.9,752.8 L1238.0,754.1 L1239.0,753.4 L1240.0,753.9 L1241.1,751.6 L1242.1,754.1 L1243.2,752.0 L1244.2,750.6 L1245.2,748.1 L1246.3,749.5 L1247.3,747.3 L1248.4,745.6 L1249.4,743.2 L1250.4,747.1 L1251.5,745.1 L1252.5,744.3 L1253.6,745.0 L1254.6,743.5 L1255.7,742.5 L1256.7,742.2 L1257.8,741.5 L1258.9,746.3 L1260.0,746.4 L1261.0,755.8 L1262.1,765.1 L1263.1,765.5 L1264.2,767.0 L1265.2,767.4 L1266.2,768.0 L1267.3,769.3 L1268.3,768.7 L1269.4,769.6 L1270.4,770.1 L1271.5,768.0 L1272.6,770.1 L1273.7,771.6 L1274.7,772.6 L1275.8,771.4 L1276.8,770.4 L1277.8,770.1 L1278.8,771.4 L1279.8,768.7 L1280.8,768.4 L1281.9,769.0 L1282.9,769.7 L1283.9,767.6 L1285.0,767.2 L1286.0,768.6 L1287.1,766.4 L1288.1,767.4 L1289.1,767.2 L1290.2,766.8 L1291.2,766.7 L1292.3,767.6 L1293.3,766.0 L1294.3,768.0 L1295.4,763.7 L1296.4,763.1 L1297.5,763.0 L1298.4,765.3 L1299.4,765.1 L1300.4,768.0 L1301.5,768.6 L1302.5,768.7 L1303.6,767.7 L1304.7,768.6 L1305.8,768.0 L1306.8,766.3 L1307.9,769.0 L1308.9,766.5 L1309.9,767.5 L1311.0,767.7 L1312.0,768.4 L1313.1,768.1 L1314.1,769.7 L1315.2,769.0 L1316.2,768.6 L1317.2,769.8 L1318.3,769.3 L1319.3,770.7 L1320.4,768.6 L1321.4,768.7 L1322.4,769.3 L1323.5,767.9 L1324.5,767.2 L1325.6,764.3 L1326.7,767.3 L1327.8,763.0 L1328.8,760.2 L1329.8,749.4 L1330.8,746.4 L1331.9,744.9 L1333.0,744.2 L1334.1,742.2 L1335.2,740.5 L1336.3,737.1 L1337.4,733.1 L1338.4,732.4 L1339.3,730.9 L1340.2,732.3 L1341.2,731.8 L1342.2,732.8 L1343.2,729.2 L1344.3,728.8 L1345.3,729.7 L1346.4,729.4 L1347.4,726.3 L1348.4,728.4 L1349.5,728.5 L1350.5,728.7 L1351.6,730.8 L1352.6,730.0 L1353.7,731.8 L1354.7,731.1 L1355.7,732.3 L1356.8,733.3 L1357.8,733.9 L1358.9,734.2 L1359.9,736.4 L1360.9,738.7 L1362.0,738.9 L1363.0,737.2 L1364.1,734.7 L1365.1,727.8 L1366.1,725.6 L1367.2,724.1 L1368.2,720.1 L1369.3,726.0 L1370.3,722.2 L1371.3,723.0 L1372.4,725.9 L1373.4,728.6 L1374.5,729.7 L1375.5,727.5 L1376.5,730.0 L1377.6,729.1 L1378.6,728.9 L1379.7,728.0 L1380.7,732.9 L1381.7,735.9 L1382.8,736.0 L1383.8,734.4 L1384.9,739.2 L1385.9,739.4 L1387.0,740.1 L1387.9,744.0 L1388.9,747.1 L1389.9,749.7 L1391.0,743.5 L1392.1,733.3 L1393.2,725.6 L1394.3,721.4 L1395.4,713.8 L1396.5,708.9 L1397.6,708.9 L1398.6,705.1 L1399.6,705.0 L1400.7,703.9 L1401.7,707.1 L1402.8,705.1 L1403.8,704.3 L1404.8,704.8 L1405.9,703.4 L1406.9,704.5 L1408.0,706.6 L1409.0,706.8 L1410.1,706.9 L1411.1,704.4 L1412.1,703.1 L1413.2,700.6 L1414.2,700.7 L1415.3,703.3 L1416.3,700.6 L1417.3,701.4 L1418.4,700.3 L1419.4,702.5 L1420.5,700.9 L1421.5,700.6 L1422.5,696.4 L1423.4,692.1 L1424.4,689.4 L1425.4,688.2 L1426.4,689.1 L1427.3,687.3 L1428.4,689.6 L1429.5,688.4 L1430.7,692.3 L1431.8,696.5 L1432.9,699.5 L1434.0,702.7 L1435.0,702.4 L1435.9,706.8 L1436.9,706.8 L1437.9,702.9 L1438.8,699.3 L1439.8,696.4 L1440.9,697.6 L1442.0,698.2 L1443.1,695.6 L1444.3,695.4 L1445.4,698.3 L1446.5,698.5 L1447.4,696.3 L1448.4,701.2 L1449.4,696.4 L1450.4,698.4 L1451.3,704.0 L1452.3,704.8 L1453.4,704.8 L1454.5,708.3 L1455.6,708.1 L1456.7,712.7 L1457.8,705.9 L1459.0,711.0 L1460.0,709.3 L1461.0,709.8 L1462.1,707.7 L1463.1,706.8 L1464.2,706.3 L1465.2,711.4 L1466.2,708.5 L1467.3,708.9 L1468.3,706.0 L1469.4,709.9 L1470.4,705.5 L1471.4,708.1 L1472.6,708.9 L1473.7,704.9 L1474.8,704.8 L1475.7,706.0 L1476.6,708.9 L1477.6,708.1 L1478.5,708.9 L1479.6,707.2 L1480.6,707.2 L1481.6,712.4 L1482.7,711.0 L1483.7,712.7 L1484.8,710.7 L1485.8,714.0 L1486.8,713.1 L1487.8,715.3 L1488.8,716.9 L1489.8,717.3 L1491.0,714.8 L1492.3,719.3 L1493.2,716.8 L1494.2,716.6 L1495.2,713.1 L1496.1,708.8 L1497.1,703.5 L1498.1,696.4 L1499.2,688.9 L1500.3,690.4 L1501.4,686.9 L1502.5,687.6 L1503.5,691.1 L1504.5,684.5 L1505.6,686.0 L1506.6,685.1 L1507.7,685.5 L1508.7,686.7 L1509.7,684.8 L1510.8,684.8 L1511.8,688.6 L1512.9,685.8 L1513.9,688.1 L1514.9,689.1 L1516.0,688.2 L1517.0,690.0 L1518.1,690.2 L1519.1,688.4 L1520.1,686.3 L1521.2,690.6 L1522.2,688.1 L1523.3,689.5 L1524.3,688.8 L1525.3,691.0 L1526.4,691.4 L1527.4,693.4 L1528.5,690.1 L1529.5,691.9 L1530.6,692.3 L1531.6,693.8 L1532.6,694.3 L1533.7,693.2 L1534.7,694.4 L1535.8,691.0 L1536.8,697.2 L1537.8,695.9 L1538.9,695.6 L1539.9,695.8 L1541.0,695.5 L1542.0,696.7 L1543.0,696.4 L1544.1,695.2 L1545.1,693.6 L1546.2,693.6 L1547.2,694.4 L1548.2,693.6 L1549.3,693.9 L1550.3,693.3 L1551.4,695.6 L1552.4,696.4 L1553.4,692.7 L1554.5,695.8 L1555.5,694.4 L1556.8,693.6 L1558.0,696.4 L1559.3,705.4 L1560.5,713.1 L1561.6,715.6 L1562.7,714.0 L1563.9,713.9 L1564.9,712.5 L1565.9,713.6 L1567.0,713.5 L1568.0,713.1 L1569.1,708.7 L1570.1,709.0 L1571.1,708.7 L1572.2,706.8 L1573.3,708.4 L1574.4,711.7 L1575.5,713.9 L1576.5,715.4 L1577.6,715.8 L1578.6,716.3 L1579.7,715.2 L1580.7,716.4 L1581.7,715.2 L1582.7,715.9 L1583.7,715.7 L1584.7,716.4 L1585.7,715.1 L1586.7,714.5 L1587.8,711.2 L1588.8,713.1 L1589.9,711.7 L1590.9,711.4 L1591.9,709.0 L1593.0,709.8 L1594.0,709.5 L1595.1,710.2 L1596.1,708.9 L1597.1,708.9 L1598.2,713.2 L1599.2,706.3 L1600.3,711.1 L1601.3,712.3 L1602.4,707.9 L1603.4,711.2 L1604.4,712.6 L1605.5,706.8 L1606.5,701.6 L1607.6,705.0 L1608.6,704.6 L1609.6,702.7 L1610.7,702.7 L1611.7,704.7 L1612.8,700.5 L1613.8,704.8 L1614.8,707.2 L1615.9,707.5 L1616.9,707.9 L1618.0,708.9 L1619.0,707.4 L1620.0,708.9 L1621.1,706.6 L1622.1,706.8 L1623.2,704.4 L1624.3,700.4 L1625.5,698.5 L1626.6,691.8 L1627.7,692.9 L1628.8,690.2 L1630.0,679.1 L1631.3,667.3 L1632.4,668.1 L1633.5,664.2 L1634.6,665.2 L1635.7,664.6 L1636.8,665.4 L1637.9,663.6 L1639.0,663.6 L1640.0,663.1 L1641.1,664.3 L1642.2,664.5 L1643.3,659.0 L1644.3,655.0 L1645.3,650.8 L1646.2,652.7 L1647.2,653.2 L1648.2,653.2 L1649.2,648.6 L1650.3,651.5 L1651.4,652.3 L1652.5,651.5 L1653.6,649.2 L1654.7,648.0 L1655.8,648.6 L1656.8,651.2 L1657.8,648.0 L1658.7,650.7 L1659.7,645.4 L1660.7,645.7 L1661.6,646.5 L1662.8,652.6 L1663.9,652.0 L1665.0,648.6 L1666.1,645.7 L1667.2,644.2 L1668.3,644.4 L1669.3,643.5 L1670.2,640.0 L1671.2,640.2 L1672.2,638.4 L1673.2,630.4 L1674.1,625.7 L1675.4,614.7 L1676.6,609.0 L1677.6,611.6 L1678.6,606.2 L1679.5,607.0 L1680.5,612.4 L1681.5,616.6 L1682.5,621.5 L1683.6,618.0 L1684.7,616.8 L1685.8,613.2 L1686.9,614.3 L1688.0,614.3 L1689.1,621.5 L1690.1,612.7 L1691.1,611.5 L1692.0,611.1 L1693.0,609.9 L1694.0,612.4 L1694.9,613.2 L1696.1,614.0 L1697.2,615.9 L1698.3,615.3 L1699.4,617.0 L1700.5,616.1 L1701.6,619.4 L1702.6,612.8 L1703.5,604.5 L1704.5,604.9 L1705.5,607.2 L1706.5,611.6 L1707.4,613.2 L1708.5,610.4 L1709.6,604.6 L1710.8,600.7 L1711.9,598.2 L1713.0,599.0 L1714.1,594.5 L1715.1,600.7 L1716.0,608.8 L1717.0,613.2 L1718.0,615.3 L1718.9,615.1 L1719.9,615.3 L1721.0,619.8 L1722.1,616.7 L1723.2,619.4 L1724.5,621.7 L1725.7,625.7 L1727.0,628.0 L1728.2,634.0 L1729.4,628.7 L1730.5,630.7 L1731.6,623.6 L1732.7,624.4 L1733.8,616.7 L1734.9,613.2 L1735.9,616.0 L1736.8,618.8 L1737.8,617.4 L1738.8,618.2 L1739.8,618.1 L1740.7,614.0 L1741.8,610.9 L1742.9,612.5 L1744.1,614.0 L1745.3,604.4 L1746.6,592.4 L1747.8,589.0 L1749.1,577.8 L1750.2,573.2 L1751.3,565.7 L1752.4,563.2 L1753.5,561.5 L1754.6,559.9 L1755.7,561.2 L1756.7,560.1 L1757.7,568.3 L1758.6,565.3 L1759.6,564.0 L1760.6,566.2 L1761.5,566.6 L1762.8,569.1 L1764.0,559.1 L1765.1,544.0 L1766.1,521.6 L1767.2,512.3 L1768.2,500.8 L1769.2,494.5 L1770.1,493.9 L1771.1,488.3 L1772.2,489.9 L1773.2,480.0 L1774.2,477.1 L1775.3,469.6 L1776.2,467.4 L1777.2,456.1 L1778.2,448.8 L1779.4,446.6 L1780.7,440.5 L1781.9,448.0 L1783.2,457.1 L1784.4,466.0 L1785.7,471.7 L1786.8,480.6 L1787.9,474.9 L1789.0,484.2 L1790.0,481.9 L1791.0,480.9 L1791.9,477.9 L1792.9,468.9 L1793.9,462.9 L1794.8,457.1 L1796.1,457.0 L1797.3,450.9 L1798.3,461.3 L1799.3,458.8 L1800.2,459.2 L1801.2,458.3 L1802.2,449.1 L1803.2,452.9 L1804.3,460.0 L1805.4,452.7 L1806.5,452.1 L1807.6,451.6 L1808.7,447.0 L1809.8,450.9 L1810.8,454.1 L1811.8,453.7 L1812.7,461.3 L1813.7,468.5 L1814.7,476.8 L1815.7,482.1 L1816.9,490.5 L1818.1,498.7 L1819.4,494.5 L1820.6,488.3 L1821.9,479.0 L1823.1,475.8 L1824.4,486.2 L1825.6,486.2 L1826.9,488.1 L1828.1,494.6 L1829.4,493.5 L1830.6,505.0 L1831.6,511.3 L1832.6,516.4 L1833.5,525.8 L1834.5,512.8 L1835.5,505.2 L1836.5,496.6 L1837.6,496.3 L1838.7,489.8 L1839.8,492.5 L1840.9,496.9 L1842.0,507.1 L1843.1,507.1 L1844.1,508.0 L1845.1,503.8 L1846.0,502.9 L1847.1,498.6 L1848.1,493.1 L1849.2,488.7 L1850.2,484.2 L1851.2,487.8 L1852.3,486.2 L1853.3,470.3 L1854.4,455.0 L1855.3,448.7 L1856.3,460.5 L1857.3,463.4 L1858.4,459.3 L1859.5,464.4 L1860.6,461.3 L1861.7,460.4 L1862.8,464.6 L1863.9,465.4 L1864.9,470.8 L1865.9,455.9 L1866.8,457.1 L1867.8,450.8 L1868.8,447.6 L1869.8,450.9 L1871.0,442.7 L1872.3,452.9 L1873.2,448.6 L1874.2,459.9 L1875.2,461.3 L1876.1,461.7 L1877.1,459.9 L1878.1,469.6 L1879.0,466.5 L1880.0,474.2 L1881.2,478.9 L1882.4,476.2 L1883.6,481.4 L1884.8,481.9 L1886.0,486.2 L1887.2,486.8 L1888.1,495.1 L1889.1,500.7 L1890.0,497.5 L1891.3,505.5 L1892.5,506.5 L1893.7,507.0 L1894.9,507.1 L1896.1,506.5 L1897.4,516.1 L1898.6,513.7 L1899.7,525.5 L1900.8,528.0 L1902.2,538.7 L1903.2,535.4 L1904.1,535.4 L1905.1,531.6 L1906.0,531.9 L1907.0,530.5 L1908.0,529.8 L1909.2,519.2 L1910.5,511.9 L1911.7,498.4 L1913.0,493.9 L1913.9,488.7 L1914.9,481.8 L1915.8,483.9 L1916.8,485.7 L1917.8,480.6 L1918.7,476.0 L1920.0,468.9 L1921.2,470.6 L1922.5,483.4 L1923.7,486.1 L1924.8,478.9 L1925.9,465.3 L1927.1,460.4 L1928.4,469.6 L1929.6,484.5 L1930.9,486.1 L1932.0,503.5 L1933.0,515.4 L1934.5,553.1 L1935.6,547.8 L1936.6,529.8 L1937.9,517.7 L1939.1,513.7 L1940.4,517.2 L1941.6,517.2 L1942.6,520.4 L1943.6,521.5 L1944.5,522.6 L1945.7,521.4 L1946.9,522.5 L1948.1,517.2 L1949.3,510.5 L1950.5,509.6 L1951.7,511.9 L1952.6,501.2 L1953.6,498.0 L1954.6,493.9 L1955.6,490.9 L1956.7,492.2 L1957.8,499.7 L1958.9,504.7 L1959.8,509.8 L1960.8,513.2 L1961.7,517.2 L1962.9,516.8 L1964.1,519.4 L1965.3,522.6 L1966.6,531.0 L1967.8,533.4 L1969.1,542.9 L1970.3,547.7 L1971.4,542.6 L1972.5,537.0 L1973.7,531.5 L1975.0,528.0 L1976.2,527.1 L1977.5,516.2 L1978.4,515.8 L1979.4,521.4 L1980.4,520.8 L1981.3,519.2 L1982.3,509.2 L1983.2,504.7 L1984.5,503.0 L1985.7,495.7 L1986.9,491.3 L1988.1,498.0 L1989.3,493.9 L1990.5,491.1 L1991.7,481.2 L1992.9,483.2 L1994.2,492.7 L1995.4,497.5 L1996.4,498.7 L1997.3,510.2 L1998.3,510.1 L1999.2,504.8 L2000.2,503.5 L2001.1,501.1 L2002.4,500.3 L2003.7,497.5 L2004.6,502.7 L2005.4,510.1 L2006.4,505.6 L2007.4,497.4 L2008.3,493.9 L2009.6,489.1 L2010.8,479.6 L2012.1,475.1 L2013.3,470.6 L2014.3,470.2 L2015.2,458.1 L2016.2,467.1 L2017.4,474.3 L2018.6,473.2 L2019.8,476.0 L2020.7,468.3 L2021.7,474.0 L2022.7,472.4 L2023.7,466.1 L2024.8,456.3 L2025.9,454.2 L2027.0,443.8 L2027.9,444.4 L2028.9,459.2 L2029.8,458.1 L2031.1,461.1 L2032.3,465.3 L2033.2,463.6 L2034.1,443.8 L2035.2,432.4 L2036.3,422.3 L2037.7,407.9 L2038.6,401.9 L2039.5,390.0 L2040.0,361.4 L2041.0,353.4 L2041.9,343.7 L2042.9,342.7 L2043.9,345.1 L2044.8,341.5 L2045.8,334.3 L2047.1,332.5 L2048.3,315.6 L2049.6,305.4 L2050.8,286.5 L2052.0,286.6 L2053.3,292.7 L2054.5,296.8 L2055.8,317.7 L2057.0,305.0 L2058.3,299.0 L2059.4,297.6 L2060.5,299.0 L2061.6,305.2 L2062.7,298.5 L2063.8,287.5 L2065.0,276.1 L2065.9,276.0 L2066.9,279.8 L2067.9,280.2 L2068.9,286.7 L2069.9,294.8 L2071.1,289.0 L2072.2,284.9 L2073.3,274.0 L2074.5,271.9 L2075.8,259.4 L2076.8,247.3 L2077.9,242.8 L2079.1,250.1 L2080.4,274.0 L2081.4,296.0 L2082.4,303.1 L2083.5,300.9 L2084.7,303.3 L2085.8,294.8 L2086.7,291.9 L2087.7,304.2 L2088.7,311.4 L2089.6,314.4 L2090.6,309.8 L2091.6,319.8 L2092.7,310.2 L2093.8,309.6 L2094.9,299.0 L2096.0,299.0 L2097.1,296.2 L2098.3,282.3 L2099.2,287.5 L2100.2,294.6 L2101.2,311.4 L2102.2,316.1 L2103.2,320.3 L2104.3,318.6 L2105.3,319.8 L2106.3,300.7 L2107.3,298.8 L2108.2,282.3 L2109.4,278.2 L2110.5,268.7 L2111.6,257.3 L2112.7,253.3 L2113.8,256.2 L2114.9,253.2 L2115.9,256.8 L2116.8,248.7 L2117.8,251.1 L2118.8,243.0 L2119.8,257.1 L2120.7,257.3 L2121.6,268.3 L2122.4,274.0 L2123.6,263.2 L2124.9,252.3 L2126.1,270.1 L2127.4,278.1 L2128.6,284.4 L2129.9,296.9 L2131.0,295.8 L2132.1,293.9 L2133.2,294.8 L2134.3,299.8 L2135.4,307.1 L2136.5,301.0 L2137.7,299.1 L2138.8,310.2 L2139.9,299.0 L2141.0,306.1 L2142.1,301.6 L2143.2,296.9 L2144.5,305.1 L2145.7,307.3 L2147.0,310.1 L2148.2,294.8 L2149.4,302.2 L2150.7,311.4 L2151.9,327.5 L2153.2,344.7 L2154.2,358.6 L2155.3,382.2 L2156.3,362.5 L2157.4,338.5 L2158.6,356.3 L2159.9,361.4 L2160.7,352.4 L2161.5,338.5 L2162.8,356.1 L2164.0,369.7 L2165.3,380.3 L2166.5,392.6 L2167.6,389.9 L2168.7,379.4 L2169.8,382.2 L2171.0,385.5 L2172.1,377.6 L2173.2,378.0 L2174.1,370.3 L2175.1,369.1 L2176.1,369.7 L2177.1,367.4 L2178.0,376.3 L2179.0,373.9 L2180.2,369.3 L2181.5,355.1 L2182.5,349.5 L2183.4,360.8 L2184.4,357.2 L2185.5,372.7 L2186.5,380.1 L2187.6,376.9 L2188.7,372.1 L2189.8,378.0 L2190.8,376.1 L2191.8,378.0 L2192.7,382.2 L2193.7,392.7 L2194.7,398.7 L2195.7,409.3 L2196.9,397.6 L2198.1,403.0 L2199.4,389.5 L2200.6,373.9 L2201.9,364.9 L2203.1,369.7 L2204.3,373.1 L2205.4,362.8 L2206.5,367.6 L2207.4,365.9 L2208.4,366.5 L2209.4,371.8 L2210.4,353.7 L2211.5,340.6 L2212.5,336.5 L2213.5,319.8 L2214.5,321.9 L2215.5,318.6 L2216.5,313.5 L2217.6,314.4 L2218.7,304.4 L2219.8,311.4 L2221.0,303.6 L2222.3,301.0 L2223.5,304.5 L2224.8,313.5 L2226.0,290.8 L2227.3,278.1 L2228.3,273.2 L2229.2,258.9 L2230.2,255.2 L2231.2,252.7 L2232.1,252.3 L2233.1,259.4 L2234.2,248.9 L2235.3,264.0 L2236.4,261.5 L2237.6,266.0 L2238.7,256.9 L2239.8,253.2 L2240.8,237.3 L2241.9,232.4 L2242.9,209.5 L2243.9,217.8 L2244.9,223.0 L2245.9,233.1 L2246.8,230.3 L2247.9,229.9 L2248.9,226.1 L2250.2,237.6 L2251.4,238.6 L2252.7,254.1 L2253.9,253.2 L2255.0,260.1 L2256.1,252.1 L2257.3,255.2 L2258.4,258.3 L2259.5,254.0 L2260.6,246.9 L2261.6,231.3 L2262.5,230.7 L2263.5,226.1 L2264.5,224.2 L2265.4,238.0 L2266.4,244.8 L2267.7,246.0 L2268.9,240.7 L2270.2,239.9 L2271.4,251.1 L2272.7,242.9 L2273.9,257.3 L2275.2,270.6 L2276.4,269.8 L2277.6,261.5 L2278.9,249.0 L2280.1,251.0 L2281.4,236.5 L2282.4,229.7 L2283.3,243.9 L2284.3,238.6 L2285.3,248.3 L2286.3,245.8 L2287.2,232.4 L2288.3,229.8 L2289.4,231.1 L2290.6,228.2 L2291.7,228.0 L2292.8,235.3 L2293.9,230.3 L2294.9,220.7 L2296.0,199.1 L2297.0,186.1 L2298.0,172.0 L2298.9,158.3 L2299.7,161.6 L2301.0,172.5 L2302.2,174.1 L2303.2,170.5 L2304.1,176.6 L2305.1,172.0 L2306.1,174.3 L2307.1,183.5 L2308.0,174.1 L2309.1,180.4 L2310.3,169.9 L2311.4,172.0 L2312.5,174.9 L2313.6,184.3 L2314.7,174.1 L2315.9,177.0 L2317.2,186.6 L2318.4,195.4 L2319.7,199.1 L2320.8,206.9 L2321.9,207.9 L2323.0,201.1 L2324.0,200.8 L2325.0,186.3 L2325.9,190.7 L2326.9,176.1 L2327.9,178.4 L2328.8,169.9 L2330.1,167.8 L2331.3,160.8 L2332.3,179.8 L2333.3,161.5 L2334.3,169.9 L2335.2,181.8 L2336.2,184.4 L2337.2,184.5 L2338.3,178.5 L2339.4,187.9 L2340.5,197.0 L2341.7,201.1 L2343.0,203.2 L2344.2,205.5 L2345.5,213.6 L2346.7,210.6 L2348.0,209.5 L2349.2,222.6 L2350.5,230.3 L2351.7,221.5 L2353.0,222.0 L2354.1,221.9 L2355.2,212.7 L2356.3,213.6 L2357.3,209.7 L2358.3,215.4 L2359.2,211.5 L2360.2,202.6 L2361.2,202.2 L2362.1,194.9 L2363.3,202.5 L2364.4,190.9 L2365.5,188.7 L2366.6,185.7 L2367.7,189.0 L2368.8,182.4 L2369.8,181.6 L2370.7,191.8 L2371.7,186.6 L2372.7,185.1 L2373.7,202.8 L2374.6,205.3 L2375.7,208.5 L2376.9,213.1 L2378.0,224.0 L2379.1,231.5 L2380.2,213.5 L2381.3,215.7 L2382.3,213.7 L2383.2,194.7 L2384.2,178.2 L2385.2,174.9 L2386.3,153.3 L2387.5,139.7 L2388.8,138.7 L2389.9,149.6 L2391.0,144.9 L2392.0,166.6 L2393.1,169.8 L2394.1,187.8 L2395.2,207.3 L2396.2,199.2 L2397.2,192.7 L2398.3,220.8 L2399.3,219.7 L2400.4,231.1 L2401.4,240.5 L2402.4,231.2 L2403.3,223.1 L2404.3,219.7 L2405.6,223.4 L2406.8,221.8 L2408.0,216.5 L2409.3,207.3 L2410.1,201.5 L2411.0,193.5 L2412.2,209.7 L2413.5,205.2 L2414.3,210.5 L2415.1,219.7 L2416.4,221.4 L2417.6,217.7 L2418.4,239.5 L2419.3,244.7 L2420.1,247.5 L2420.9,261.3 L2422.2,271.1 L2423.4,269.6 L2424.7,268.2 L2425.9,246.8 L2427.2,246.6 L2428.4,261.3 L2429.5,274.2 L2430.5,298.7 L2431.5,297.6 L2432.4,297.7 L2433.4,311.2 L2434.7,324.9 L2435.9,334.1 L2436.7,334.6 L2437.6,352.8 L2438.4,365.1 L2439.2,372.8 L2440.1,370.5 L2440.9,354.9 L2441.9,344.2 L2443.0,348.6 L2444.0,338.8 L2445.1,332.0 L2446.1,323.8 L2447.1,334.1 L2448.4,361.1 L2449.2,352.3 L2450.0,336.2 L2451.3,322.4" fill="none" stroke="#241a1b" stroke-width="3" stroke-linejoin="round" stroke-linecap="round"/>
<rect x="116.6" y="102" width="3.4" height="764.6" fill="#000"/>
<rect x="2484.8" y="102" width="3" height="764.6" fill="#aea4f0"/>
<line x1="131.0" x2="2473.7" y1="867.6" y2="867.6" stroke="#dcd9e6" stroke-width="1.4"/>
<line x1="152.8" x2="152.8" y1="868.3" y2="882.6" stroke="#dddbe8" stroke-width="1.3"/>
<text class="tk" x="154.0" y="910.2" text-anchor="middle">2020 Jan</text>
<line x1="346.0" x2="346.0" y1="868.3" y2="882.6" stroke="#dddbe8" stroke-width="1.3"/>
<text class="tk" x="347.2" y="910.2" text-anchor="middle">2020 Jul</text>
<line x1="541.2" x2="541.2" y1="868.3" y2="882.6" stroke="#dddbe8" stroke-width="1.3"/>
<text class="tk" x="542.4" y="910.2" text-anchor="middle">2021 Jan</text>
<line x1="733.3" x2="733.3" y1="868.3" y2="882.6" stroke="#dddbe8" stroke-width="1.3"/>
<text class="tk" x="734.5" y="910.2" text-anchor="middle">2021 Jul</text>
<line x1="928.6" x2="928.6" y1="868.3" y2="882.6" stroke="#dddbe8" stroke-width="1.3"/>
<text class="tk" x="929.8" y="910.2" text-anchor="middle">2022 Jan</text>
<line x1="1120.7" x2="1120.7" y1="868.3" y2="882.6" stroke="#dddbe8" stroke-width="1.3"/>
<text class="tk" x="1121.9" y="910.2" text-anchor="middle">2022 Jul</text>
<line x1="1316.0" x2="1316.0" y1="868.3" y2="882.6" stroke="#dddbe8" stroke-width="1.3"/>
<text class="tk" x="1317.2" y="910.2" text-anchor="middle">2023 Jan</text>
<line x1="1508.1" x2="1508.1" y1="868.3" y2="882.6" stroke="#dddbe8" stroke-width="1.3"/>
<text class="tk" x="1509.3" y="910.2" text-anchor="middle">2023 Jul</text>
<line x1="1703.4" x2="1703.4" y1="868.3" y2="882.6" stroke="#dddbe8" stroke-width="1.3"/>
<text class="tk" x="1704.6" y="910.2" text-anchor="middle">2024 Jan</text>
<line x1="1896.5" x2="1896.5" y1="868.3" y2="882.6" stroke="#dddbe8" stroke-width="1.3"/>
<text class="tk" x="1897.7" y="910.2" text-anchor="middle">2024 Jul</text>
<line x1="2091.8" x2="2091.8" y1="868.3" y2="882.6" stroke="#dddbe8" stroke-width="1.3"/>
<text class="tk" x="2093.0" y="910.2" text-anchor="middle">2025 Jan</text>
<line x1="2283.9" x2="2283.9" y1="868.3" y2="882.6" stroke="#dddbe8" stroke-width="1.3"/>
<text class="tk" x="2285.1" y="910.2" text-anchor="middle">2025 Jul</text>
<text class="ax" x="94.6" y="874.5" text-anchor="end">0</text>
<text class="ax" x="94.6" y="698.7" text-anchor="end">30K</text>
<text class="ax" x="94.6" y="522.8" text-anchor="end">60K</text>
<text class="ax" x="94.6" y="347.3" text-anchor="end">90K</text>
<text class="ax" x="94.6" y="171.0" text-anchor="end">120K</text>
<text class="ax" x="2512.2" y="875.2">0</text>
<text class="ax" x="2512.2" y="722.2">20</text>
<text class="ax" x="2512.2" y="569.3">40</text>
<text class="ax" x="2512.2" y="416.3">60</text>
<text class="ax" x="2512.2" y="263.4">80</text>
<text class="ax" x="2512.2" y="110.4">100</text>
<text class="ti" style="letter-spacing:0.9px" transform="translate(28,485.2) rotate(-90)" text-anchor="middle">Price ($)</text>
<text class="ti" style="letter-spacing:0.75px" transform="translate(2562.9,485.2) rotate(90)" text-anchor="middle">Bull Score</text>
<circle cx="1183.9" cy="49.4" r="9.8" fill="#ada3ee"/>
<text class="lg" x="1210.6" y="56.6">Bull Score</text>
<rect x="1334.4" y="49" width="38.5" height="3" fill="#111"/>
<text class="lg" x="1380.5" y="56.6">Price</text>
<rect x="1056.1" y="926.4" width="20.8" height="20.3" rx="1.5" fill="url(#gg)"/>
<text class="bl" x="1082" y="942.8">Bullish Conditions: &gt;= 60</text>
<rect x="1301.2" y="926.4" width="20.8" height="20.3" rx="1.5" fill="url(#rg)"/>
<text class="bl" x="1327.4" y="942.8">Bearish Conditions: &lt;= 40</text>
<polygon points="955,20.3 965,20.3 959.1,781.5 949.1,781.5" fill="#ff2600"/>
<polygon points="928.8,779.9 978.1,779.9 953.2,829.3" fill="#ff2600"/>
<polygon points="2466,32.2 2476,32.2 2469.3,793 2459.5,793" fill="#ff2600"/>
<polygon points="2439.7,792 2489.3,792 2464.1,841.2" fill="#ff2600"/>
</svg></body></html>
